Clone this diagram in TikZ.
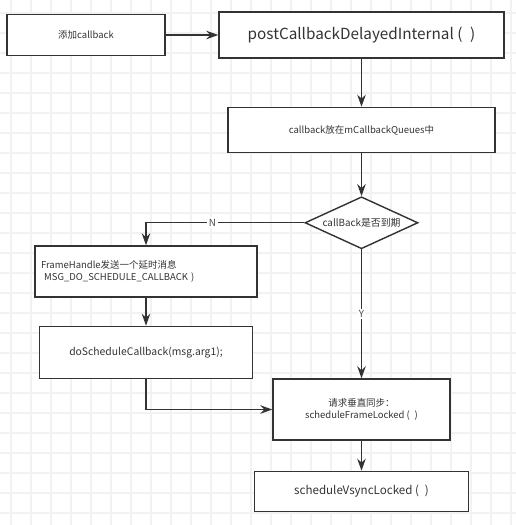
\documentclass[tikz,border=0pt]{standalone}
\usepackage{fontspec}
\setmainfont{Noto Sans CJK SC}
\usepackage{tikz}
\usetikzlibrary{shapes,arrows.meta,positioning,calc}
\definecolor{linegray}{RGB}{51,51,51}
\definecolor{gridgray}{RGB}{240,242,244}

\begin{document}
\begin{tikzpicture}[x=0.02cm, y=-0.02cm]
\tikzstyle{box} = [rectangle, draw=linegray, line width=0.8pt, fill=white, text=black!80, font=\fontsize{5.4pt}{7pt}\selectfont, align=center];
\tikzstyle{line} = [draw=linegray, line width=0.8pt];
\tikzstyle{arrow} = [line, -{Stealth[length=2.4mm, width=1.7mm]}];
\tikzstyle{tag} = [fill=white, inner sep=1pt, text=black!70, font=\fontsize{5.6pt}{7pt}\selectfont];

% background grid
\useasboundingbox (0,0) rectangle (516,525);
\fill[white] (0,0) rectangle (516,525);
\foreach \gx in {11,31,...,511} \draw[gridgray, line width=0.6pt] (\gx,0) -- (\gx,525);
\foreach \gy in {13,33,...,513} \draw[gridgray, line width=0.6pt] (0,\gy) -- (516,\gy);

\node (add) [box, minimum width=3.16cm, minimum height=0.82cm] at (86,35) {添加callback};
\node (post) [box, minimum width=5.7cm, minimum height=0.92cm, font=\fontsize{8.7pt}{10pt}\selectfont] at (361.5,35) {postCallbackDelayedInternal (\enspace)};
\node (queue) [box, minimum width=5.34cm, minimum height=0.9cm, below=0.96cm of post] {callback放在mCallbackQueues中};
\node (due) [diamond, aspect=2.17, inner sep=0pt, draw=linegray, line width=0.8pt, fill=white, minimum width=2.26cm, minimum height=1.04cm, font=\fontsize{5.6pt}{7pt}\selectfont, text=black!80, below=0.86cm of queue] {callBack是否到期};
\node (frame) [box, minimum width=4.36cm, minimum height=1.02cm, text width=4.2cm, align=left] at (146,271.5) {FrameHandle发送一个延时消息\\\ MSG\_DO\_SCHEDULE\_CALLBACK )};
\node (dosch) [box, minimum width=4.26cm, minimum height=1.04cm, font=\fontsize{5.9pt}{7.5pt}\selectfont, below=0.56cm of frame] {doScheduleCallback(msg.arg1);};
\node (req) [box, minimum width=3.54cm, minimum height=1.22cm] at (361.5,409.5) {请求垂直同步：\\scheduleFrameLocked (\enspace)};
\node (vsync) [box, minimum width=4.28cm, minimum height=0.8cm, font=\fontsize{6.6pt}{8pt}\selectfont, below=0.6cm of req] {scheduleVsyncLocked (\enspace)};

\draw [arrow] (add) -- (post);
\draw [arrow] (post) -- (queue);
\draw [arrow] (queue) -- (due);
\draw [arrow] (due.west) -| node[tag, pos=0.29] {N} (frame.north);
\draw [arrow] (frame) -- (dosch);
\draw [arrow] (due.south) -- node[tag, pos=0.5] {Y} (req.north);
\draw [arrow] (dosch.south) |- (req.west);
\draw [arrow] (req) -- (vsync);
\end{tikzpicture}
\end{document}
